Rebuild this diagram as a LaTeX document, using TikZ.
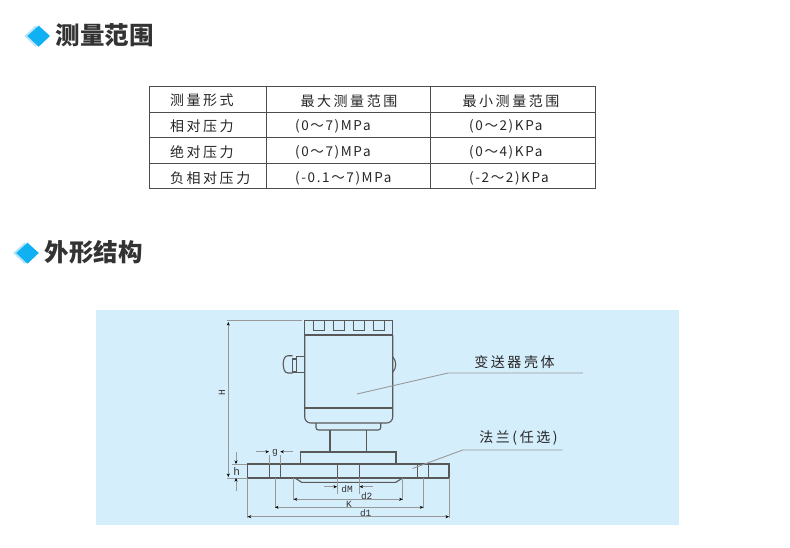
\documentclass[tikz,border=0pt]{standalone}
\usepackage{fontspec}
\setmainfont{Liberation Sans}
\newfontfamily\cjk{Noto Sans CJK SC}
\newfontfamily\cjktext[LetterSpace=18]{Noto Sans CJK SC}
\newfontfamily\cjkvalue[LetterSpace=12]{Noto Sans CJK SC}
\newfontfamily\dimfont{Liberation Mono}
\usetikzlibrary{arrows.meta, positioning}
\definecolor{panelblue}{HTML}{D5EEFB}
\definecolor{markblue}{HTML}{0FB1F2}
\definecolor{markpale}{HTML}{B5E4F8}

\begin{document}
\begin{tikzpicture}[
    x=1pt, y=-1pt,
    >={Stealth[length=3.5pt, width=3pt, black]},
    headtext/.style={font=\cjk\fontsize{24.5}{25}\selectfont\bfseries, text=black!80, inner sep=0pt},
    celltext/.style={font=\cjktext\fontsize{14}{14}\selectfont, text=black!85, inner sep=0pt},
    firstcell/.style={celltext, anchor=west},
    valuecell/.style={font=\cjkvalue\fontsize{13.5}{14}\selectfont, text=black!85, inner sep=0pt, anchor=west},
    gridline/.style={draw=black!70, line width=0.9pt},
    outline/.style={draw=black!65, line width=1.1pt},
    dimline/.style={draw=black!40, line width=0.9pt},
    dimtext/.style={font=\dimfont\fontsize{9.5}{10}\selectfont, text=black!80, inner sep=0pt},
    ]
    \useasboundingbox (0,0) rectangle (790,547);
    \fill[white] (0,0) rectangle (790,547);

    %Headings
    \fill[markpale] (35.7,25.7) -- (47,36) -- (35.7,46.7) -- (24.4,36) -- cycle;
    \fill[markblue] (38.7,25.7) -- (50,36) -- (38.7,46.7) -- (27.4,36) -- cycle;
    \fill[markpale] (24.5,242.7) -- (35.8,253) -- (24.5,263.7) -- (13.2,253) -- cycle;
    \fill[markblue] (27.5,242.7) -- (38.8,253) -- (27.5,263.7) -- (16.2,253) -- cycle;
    \node[headtext] (rangehead) at (104.5,35) {测量范围};
    \node[headtext] (shapehead) at (93.5,252) {外形结构};

    %Table
    \draw[gridline] (149,86.7) rectangle (595,188.3);
    \foreach \rowy in {112.3,137.7,163.3}
      \draw[gridline] (149,\rowy) -- (595,\rowy);
    \foreach \colx in {266,430.7}
      \draw[gridline] (\colx,86.7) -- (\colx,188.3);

    \node[firstcell] (kindhead) at (170,100.7) {测量形式};
    \node[celltext]  (maxhead)  at (349,100.7) {最大测量范围};
    \node[celltext]  (minhead)  at (511,100.7) {最小测量范围};

    \node[firstcell] (kindrel) at (170,126.7) {相对压力};
    \node[valuecell] (maxrel)  at (295,126.7) {(0〜7)MPa};
    \node[valuecell] (minrel)  at (469,126.7) {(0〜2)KPa};

    \node[firstcell] (kindabs) at (170,152) {绝对压力};
    \node[valuecell] (maxabs)  at (295,152) {(0〜7)MPa};
    \node[valuecell] (minabs)  at (469,152) {(0〜4)KPa};

    \node[firstcell] (kindneg) at (170,178) {负相对压力};
    \node[valuecell] (maxneg)  at (295,178) {(-0.1〜7)MPa};
    \node[valuecell] (minneg)  at (469,178) {(-2〜2)KPa};

    %Panel
    \fill[panelblue] (96,310) rectangle (679,525);

    %Housing
    \draw[outline] (304.7,320.7) rectangle (392.7,335);
    \foreach \toothx in {313.3,333.3,353.3,373.3}
      \draw[outline, line width=1pt] (\toothx,320.7) -- (\toothx,330) -- ++(11,0) -- ++(0,-9.3);
    \draw[outline, rounded corners=6pt] (304.7,335) -- (304.7,423) -- (392.7,423) -- (392.7,335);
    \draw[outline] (304.7,408) -- (392.7,408);
    \draw[outline] (304.7,356.3) -- (296.7,356.3) -- (296.7,372.7) -- (304.7,372.7);
    \draw[outline] (296.7,359) -- (292.7,359) -- (292.7,372) -- (296.7,372);
    \draw[outline, rounded corners=3pt] (292.7,355.7) -- (285,355.7) -- (282.7,364) -- (285,373) -- (292.7,373);
    \draw[outline] (392.7,356.7) .. controls (396.7,361) and (396.7,368) .. (392.7,372.3);

    %Flange
    \draw[outline, rounded corners=2.5pt] (316,423) -- (316,430) -- (380.7,430) -- (380.7,423);
    \draw[outline] (330,430) -- (330,452) (366.7,430) -- (366.7,452);
    \draw[outline] (300.7,464) -- (300.7,452) -- (396,452) -- (396,464);
    \draw[outline] (247.7,464) rectangle (449,478);
    \foreach \holex in {269.3,280,337.3,359.3,417.3,428.7}
      \draw[outline, line width=1pt] (\holex,464) -- (\holex,478);
    \draw[outline] (295,478) -- (301.7,482.3) -- (395.7,482.3) -- (402.7,478);

    %Leaders
    \node[celltext] (housinglabel) at (514.5,361.7) {变送器壳体};
    \node[celltext] (flangelabel)  at (518.5,438)   {法兰(任选)};
    \coordinate (housingend) at (357,394);
    \coordinate (housingbend) at (448,373);
    \coordinate (housingtail) at (583,373);
    \coordinate (flangeend) at (412.5,468.5);
    \coordinate (flangebend) at (462.7,450);
    \coordinate (flangetail) at (562.7,450);
    \draw[dimline] (housingend) -- (housingbend) -- (housingtail);
    \draw[dimline] (flangeend) -- (flangebend) -- (flangetail);

    %Dimension lines
    \draw[dimline] (226.7,320.7) -- (301.7,320.7);
    \draw[dimline] (232,464) -- (247,464) (227,478) -- (247,478);
    \draw[dimline] (269.3,455) -- (269.3,464) (280,455) -- (280,464);
    \draw[dimline] (337.3,478) -- (337.3,494) (359.3,478) -- (359.3,494);
    \draw[dimline] (293.7,478) -- (293.7,500) (402.7,478) -- (402.7,500);
    \draw[dimline] (275,478) -- (275,508) (423.3,478) -- (423.3,508);
    \draw[dimline] (247.7,478) -- (247.7,518) (449,478) -- (449,518);

    \draw[dimline, <->] (228.3,322) -- (228.3,477);
    \draw[dimline, ->] (236,451.7) -- (236,464);
    \draw[dimline, ->] (236,490.7) -- (236,478);
    \draw[dimline, ->] (256,451.7) -- (269,451.7);
    \draw[dimline, ->] (293,451.7) -- (280.3,451.7);
    \draw[dimline, ->] (324.3,486.7) -- (337,486.7);
    \draw[dimline, ->] (372.7,486.7) -- (359.6,486.7);
    \draw[dimline, <->] (293.7,499.3) -- (402.7,499.3);
    \draw[dimline, <->] (275,507.3) -- (423.3,507.3);
    \draw[dimline, <->] (247.7,516.7) -- (449,516.7);

    \node[dimtext, rotate=90] (Hlabel) at (222,393) {H};
    \node[dimtext] (glabel) at (275,453) {g};
    \node[dimtext, font=\fontsize{11}{11}\selectfont] (hlabel) at (236.7,471.5) {h};
    \node[dimtext] (dMlabel) at (347,489.3) {dM};
    \node[dimtext] (dtwolabel) at (366.7,496) {d2};
    \node[dimtext] (Klabel) at (349,504) {K};
    \node[dimtext] (donelabel) at (365.7,512.7) {d1};
\end{tikzpicture}
\end{document}
